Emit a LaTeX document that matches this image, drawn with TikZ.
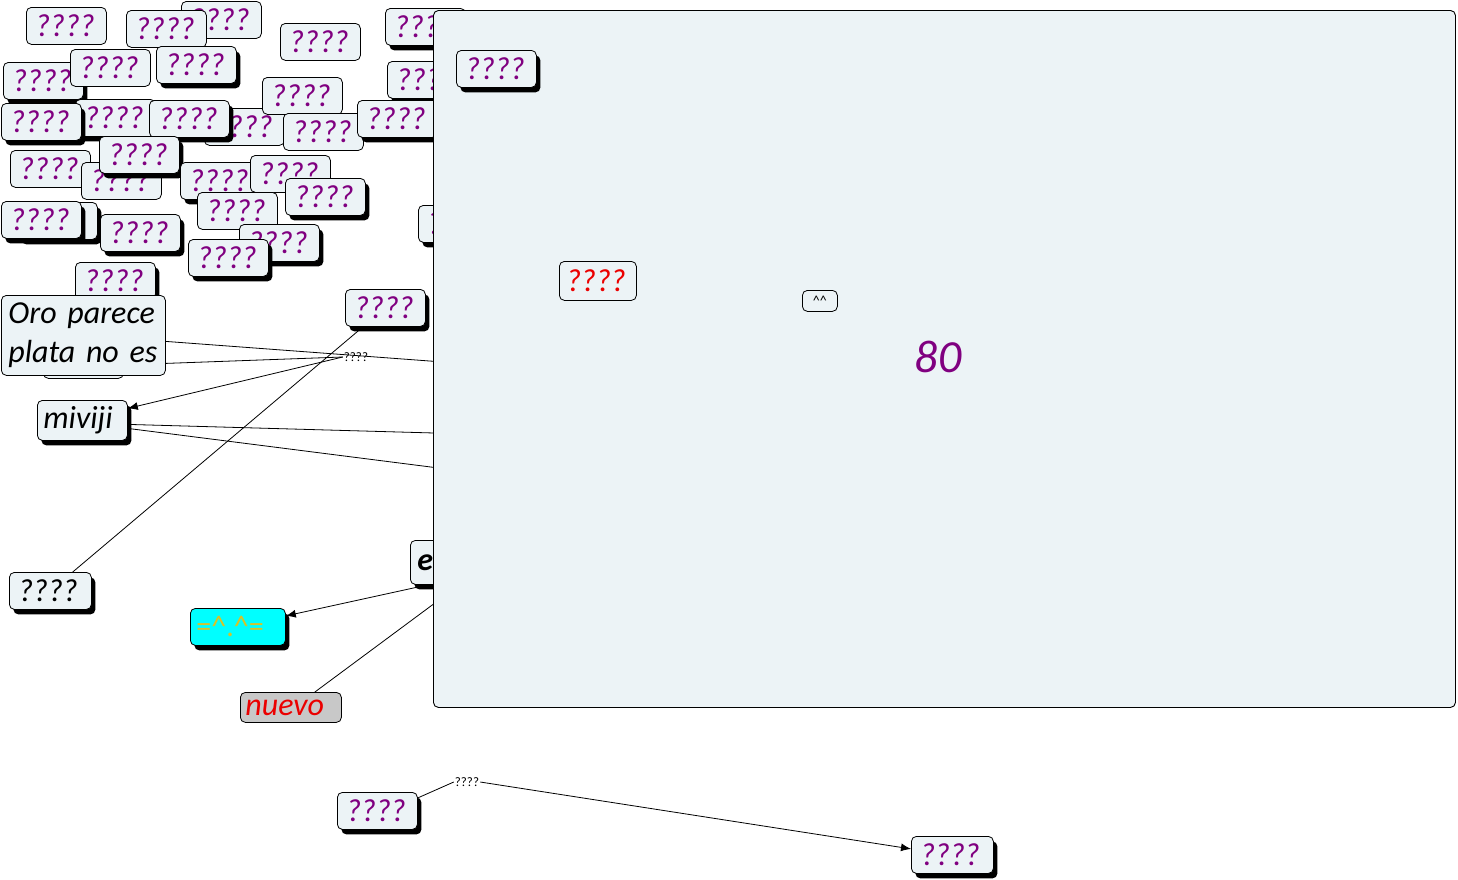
\documentclass[tikz,border=0pt]{standalone}
\usepackage{fontspec}
\setmainfont{Carlito}
\usetikzlibrary{shadows,arrows.meta,calc}
\definecolor{nodefill}{RGB}{236,243,246}
\definecolor{qpurple}{RGB}{128,0,128}
\definecolor{qred}{RGB}{235,0,0}
\definecolor{catfill}{RGB}{0,255,255}
\definecolor{cattext}{RGB}{215,195,40}
\definecolor{nuevofill}{RGB}{200,200,200}
\tikzset{
  box/.style={draw=black, line width=0.8pt, rounded corners=5pt, fill=nodefill, anchor=north west,
    text width=62pt, align=left, minimum height=37pt, inner xsep=9pt, inner ysep=0pt,
    font=\fontsize{32}{37}\selectfont\itshape, text=qpurple},
  shad/.style={drop shadow={shadow xshift=4pt, shadow yshift=-5pt, fill=black, opacity=1}},
  ln/.style={draw=black, line width=0.8pt},
  ar/.style={ln, -{Latex[length=10pt,width=8pt]}},
  lbl/.style={inner sep=1pt, font=\fontsize{13}{14}\selectfont, text=black},
}
\begin{document}
\begin{tikzpicture}[x=1pt,y=-1pt]
\useasboundingbox (0,0) rectangle (1458,879);
% left cluster
\node[box] (nB) at (181,1) {????};
\node[box] (nC) at (126,10) {????};
\node[box] (nA) at (26,7) {????};
\node[box] (nD) at (280,23) {????};
\node[box,shad] (nE) at (385,8) {????};
\node[box,shad] (nF) at (3,62) {????};
\node[box] (nG) at (70,49) {????};
\node[box,shad] (nH) at (156,46) {????};
\node[box,shad] (nI) at (387,61) {????};
\node[box] (nN) at (204,108) {????};
\node[box] (nJ) at (262,77) {????};
\node[box,shad] (nL) at (75,99) {????};
\node[box,shad] (nK) at (1,103) {????};
\node[box,shad] (nM) at (149,100) {????};
\node[box] (nO) at (283,113) {????};
\node[box,shad] (nP) at (357,100) {????};
\node[box] (nQ) at (10,150) {????};
\node[box] (nR) at (81,162) {????};
\node[box,shad] (nS) at (99,136) {????};
\node[box,shad] (nT) at (180,162) {????};
\node[box] (nU) at (250,155) {????};
\node[box] (nW) at (197,192) {????};
\node[box,shad] (nV) at (285,178) {????};
\node[box,shad] (nX2) at (17,202) {????};
\node[box,shad] (nX) at (1,201) {????};
\node[box,shad] (nY) at (100,214) {????};
\node[box,shad] (nZ) at (239,224) {????};
\node[box,shad] (nAA) at (188,239) {????};
\node[box,shad] (nAC) at (418,205) {????};
\node[box,shad] (nAB) at (75,262) {????};
\node[box] (nhid) at (43,341) {};
\node[box, text width=150pt, minimum height=80pt, text=black, inner xsep=7pt,
  font=\fontsize{32}{39}\selectfont\itshape] (oro) at (1,295) {Oro parece\\plata no es};
\node[box,shad] (qa) at (345,289) {????};
\node[box,shad, text width=78pt, inner xsep=6pt, minimum height=40pt, text=black] (miviji) at (37,400) {miviji};
\node[box,shad, text width=64pt, text=black] (qb) at (9,572) {????};
\node[box,shad, text width=83pt, inner xsep=6pt, fill=catfill, text=cattext, font=\fontsize{30}{32}\selectfont] (cat) at (190,608) {=\^{}.\^{}=};
\node[box, text width=91pt, inner xsep=5pt, minimum height=30pt, fill=nuevofill, text=qred] (nuevo) at (240,692) {nuevo};
\node[box,shad, minimum height=44pt, text=black, font=\fontsize{32}{37}\selectfont\bfseries\itshape, inner xsep=7pt, text width=66pt] (e) at (410,540) {e};
\node[box,shad] (b1) at (337,792) {????};
\node[box,shad, text width=64pt] (b2) at (911,836) {????};
% labels and hidden ends
\node[lbl] (lbl1) at (356,357) {????};
\node[lbl] (lbl2) at (467,782) {????};
\coordinate (h1) at (470,364);
\coordinate (h2) at (470,434);
\coordinate (h3) at (470,472);
\coordinate (h4) at (470,577);
% connectors
\draw[ln] ([yshift=-6pt]oro.east) -- (h1);
\draw[ln] ([yshift=-28pt]oro.east) -- (lbl1.west);
\draw[ar] (lbl1.west) -- ([yshift=12pt]miviji.east);
\draw[ln] (qa) -- (qb);
\draw[ln] ([yshift=-4pt]miviji.east) -- (h2);
\draw[ln] ([yshift=-8pt]miviji.east) -- (h3);
\draw[ar] ([xshift=18pt]e.south west) -- ([yshift=11pt]cat.east);
\draw[ln] (h4) -- ([xshift=24pt]nuevo.north);
\draw[ln] ([yshift=13pt]b1.east) -- (lbl2.west);
\draw[ar] (lbl2.east) -- ([yshift=6pt]b2.west);
% big container
\node[draw=black, line width=0.9pt, rounded corners=5pt, fill=nodefill, anchor=north west,
  minimum width=1022pt, minimum height=697pt, inner sep=0pt] (big) at (433,10) {};
\node[box,shad] (qin) at (456,50) {????};
\node[box, text width=63pt, inner xsep=7pt, minimum height=39pt, text=qred] (redq) at (559,261) {????};
\node[box, text width=25pt, inner xsep=5pt, align=center, minimum height=21pt, text=black, font=\fontsize{14}{14}\selectfont] (caret) at (802,290) {\^{}\^{}};
\node[text=qpurple, font=\fontsize{46}{50}\selectfont\itshape] (eighty) at (938,357) {80};
\end{tikzpicture}
\end{document}
